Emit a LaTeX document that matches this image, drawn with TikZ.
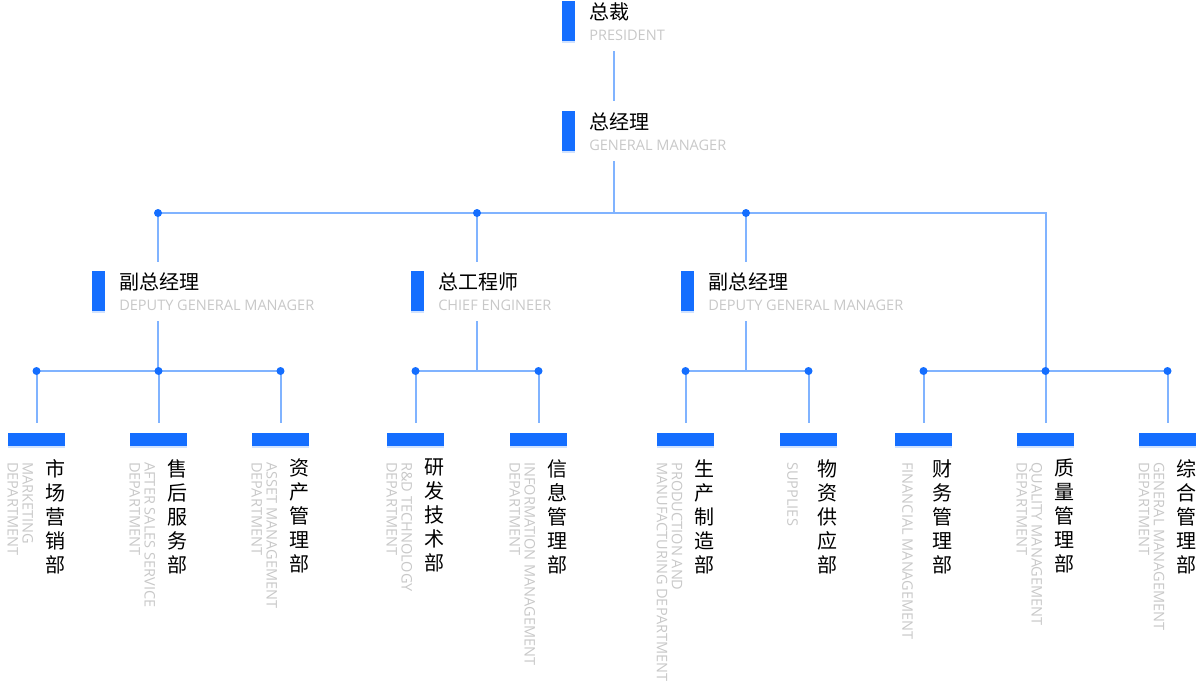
\documentclass[tikz,border=0pt]{standalone}
\usepackage{fontspec}
\setmainfont{Open Sans}
\newfontfamily\cjk{Noto Sans CJK SC}
\usetikzlibrary{positioning}
\usetikzlibrary{shadows}

\definecolor{barblue}{RGB}{20,110,255}
\definecolor{lineblue}{RGB}{128,179,255}
\definecolor{engray}{RGB}{200,200,200}

\tikzset{
    headbar/.style={fill=barblue, minimum width=9.75pt, minimum height=30pt, inner sep=0pt,
        drop shadow={shadow xshift=0pt, shadow yshift=-1.2pt, fill=barblue, opacity=0.2}},
    deptbar/.style={fill=barblue, minimum width=42.75pt, minimum height=9.75pt, inner sep=0pt,
        drop shadow={shadow xshift=0pt, shadow yshift=-1.2pt, fill=barblue, opacity=0.2}},
    cnname/.style={font=\cjk\fontsize{15}{17}\selectfont, inner sep=0pt, anchor=west},
    enname/.style={font=\fontsize{10.9}{12}\selectfont, text=engray, inner sep=0pt, anchor=west},
    vcn/.style={font=\cjk\fontsize{15}{18}\selectfont, align=center, inner sep=0pt, anchor=north},
    ven/.style={font=\fontsize{10.9}{11.25}\selectfont, text=engray, align=left, rotate=-90, inner sep=0pt, anchor=west},
    link/.style={draw=lineblue, line width=1.5pt},
    dot/.style={circle, fill=barblue, inner sep=0pt, minimum size=6pt},
}

\begin{document}
\begin{tikzpicture}[x=0.75pt, y=-0.75pt]
    \useasboundingbox (0,0) rectangle (1200,690);

    % head blocks
    \node[headbar] (pres) at (568.5,21) {};
    \node[cnname] (presT) at (589,11.5) {总裁};
    \node[enname] (presE) at (589,35.5) {PRESIDENT};

    \node[headbar] (gm) at (568.5,131) {};
    \node[cnname] (gmT) at (589,121.5) {总经理};
    \node[enname] (gmE) at (589,145.5) {GENERAL MANAGER};

    \node[headbar] (dgmA) at (98.5,291) {};
    \node[cnname] (dgmAT) at (119,281.5) {副总经理};
    \node[enname] (dgmAE) at (119,305.5) {DEPUTY GENERAL MANAGER};

    \node[headbar] (ce) at (417.5,291) {};
    \node[cnname] (ceT) at (438,281.5) {总工程师};
    \node[enname] (ceE) at (438,305.5) {CHIEF ENGINEER};

    \node[headbar] (dgmB) at (687.5,291) {};
    \node[cnname] (dgmBT) at (708,281.5) {副总经理};
    \node[enname] (dgmBE) at (708,305.5) {DEPUTY GENERAL MANAGER};

    % junctions
    \coordinate (p0) at (614,51);
    \coordinate (p1) at (614,101);
    \coordinate (g0) at (614,161);
    \coordinate (g1) at (614,213);
    \coordinate (jA) at (158,213);
    \coordinate (jC) at (477,213);
    \coordinate (jB) at (746,213);
    \coordinate (jR) at (1046,213);
    \coordinate (jAe) at (158,262);
    \coordinate (jCe) at (477,262);
    \coordinate (jBe) at (746,262);
    \coordinate (a0) at (158,321);
    \coordinate (c0) at (477,321);
    \coordinate (b0) at (746,321);
    \coordinate (a1) at (158,371);
    \coordinate (c1) at (477,371);
    \coordinate (b1) at (746,371);
    \coordinate (r1) at (1046,371);

    % departments
    \node[deptbar] (mkt) at (36.5,439.5) {};
    \node[vcn] at (55,459) {市\\场\\营\\销\\部};
    \node[ven] at (20.5,462) {MARKETING\\DEPARTMENT};

    \node[deptbar] (svc) at (158.5,439.5) {};
    \node[vcn] at (177,459) {售\\后\\服\\务\\部};
    \node[ven] at (142.5,462) {AFTER SALES SERVICE\\DEPARTMENT};

    \node[deptbar] (ast) at (280.5,439.5) {};
    \node[vcn] at (299,459) {资\\产\\管\\理\\部};
    \node[ven] at (264.5,462) {ASSET MANAGEMENT\\DEPARTMENT};

    \node[deptbar] (rnd) at (415.5,439.5) {};
    \node[vcn] at (434,459) {研\\发\\技\\术\\部};
    \node[ven] at (399.5,462) {R\&D TECHNOLOGY\\DEPARTMENT};

    \node[deptbar] (inf) at (538.5,439.5) {};
    \node[vcn] at (557,459) {信\\息\\管\\理\\部};
    \node[ven] at (522.5,462) {INFORMATION MANAGEMENT\\DEPARTMENT};

    \node[deptbar] (prd) at (685.5,439.5) {};
    \node[vcn] at (704,459) {生\\产\\制\\造\\部};
    \node[ven] at (669.5,462) {PRODUCTION AND\\MANUFACTURING DEPARTMENT};

    \node[deptbar] (sup) at (808.5,439.5) {};
    \node[vcn] at (827,459) {物\\资\\供\\应\\部};
    \node[ven] at (792.5,462) {SUPPLIES};

    \node[deptbar] (fin) at (923.5,439.5) {};
    \node[vcn] at (942,459) {财\\务\\管\\理\\部};
    \node[ven] at (907.5,462) {FINANCIAL MANAGEMENT};

    \node[deptbar] (qlt) at (1045.5,439.5) {};
    \node[vcn] at (1064,459) {质\\量\\管\\理\\部};
    \node[ven] at (1029.5,462) {QUALITY MANAGEMENT\\DEPARTMENT};

    \node[deptbar] (gen) at (1167.5,439.5) {};
    \node[vcn] at (1186,459) {综\\合\\管\\理\\部};
    \node[ven] at (1151.5,462) {GENERAL MANAGEMENT\\DEPARTMENT};

    % connectors
    \draw[link] (p0) -- (p1);
    \draw[link] (g0) -- (g1);
    \draw[link] (jA) -- (jR) -- (r1);
    \draw[link] (jA) -- (jAe);
    \draw[link] (jC) -- (jCe);
    \draw[link] (jB) -- (jBe);
    \draw[link] (a0) -- (a1);
    \draw[link] (c0) -- (c1);
    \draw[link] (b0) -- (b1);
    \draw[link] (mkt.north |- a1) -- (ast.north |- a1);
    \draw[link] (rnd.north |- c1) -- (inf.north |- c1);
    \draw[link] (prd.north |- b1) -- (sup.north |- b1);
    \draw[link] (fin.north |- r1) -- (gen.north |- r1);
    \foreach \d/\j in {mkt/a1, svc/a1, ast/a1, rnd/c1, inf/c1, prd/b1, sup/b1, fin/r1, qlt/r1, gen/r1}
        \draw[link, shorten >=7.5pt] (\d.north |- \j) -- (\d.north);

    % dots
    \node[dot] at (jA) {};
    \node[dot] at (jC) {};
    \node[dot] at (jB) {};
    \foreach \d/\j in {mkt/a1, svc/a1, ast/a1, rnd/c1, inf/c1, prd/b1, sup/b1, fin/r1, qlt/r1, gen/r1}
        \node[dot] at (\d.north |- \j) {};
\end{tikzpicture}
\end{document}
